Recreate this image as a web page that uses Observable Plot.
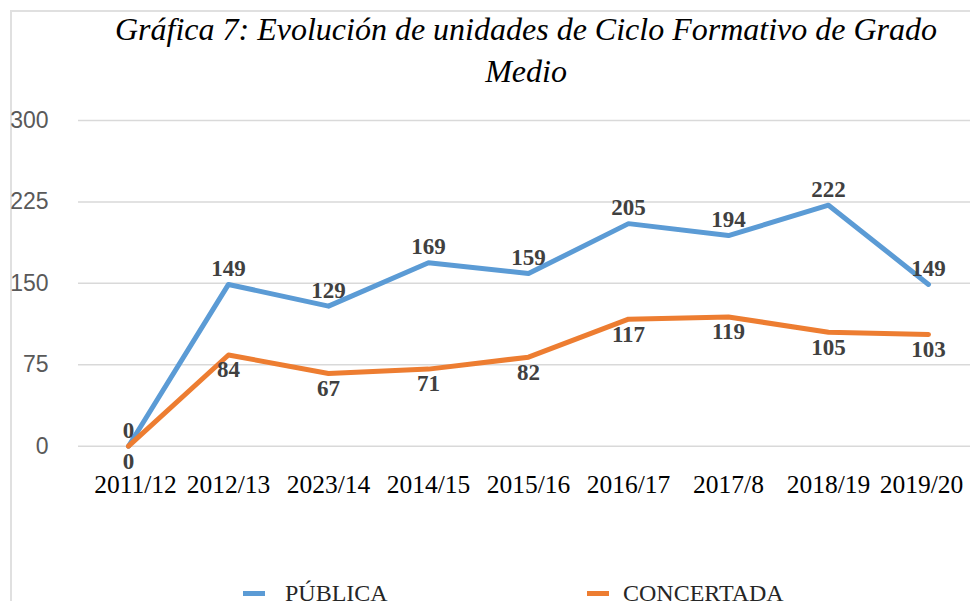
<!DOCTYPE html>
<html>
<head>
<meta charset="utf-8">
<script src="https://cdn.jsdelivr.net/npm/d3@7"></script>
<script src="https://cdn.jsdelivr.net/npm/@observablehq/plot@0.6"></script>
<style>
  html, body { margin: 0; padding: 0; background: #fff; overflow: hidden; }
  body { width: 970px; height: 601px; position: relative; }
  #frame { position: absolute; left: 10px; top: 10px; width: 1000px; height: 700px; border: 2px solid #e0e0e0; box-sizing: border-box; }
  #title { position: absolute; left: 76px; width: 900px; top: 8px; text-align: center;
    font-family: "Liberation Serif", serif; font-style: italic; font-size: 32px; line-height: 42px; color: #000; white-space: nowrap; }
  #chart { position: absolute; left: 0; top: 100px; }
  .leg { position: absolute; top: 581px; font-family: "Liberation Serif", serif; font-size: 24px; line-height: 24px; color: #262626; white-space: nowrap; }
  .sw { position: absolute; top: 591px; width: 22px; height: 5px; }
</style>
</head>
<body>
<div id="frame"></div>
<div id="title"></div>
<div id="chart"></div>
<div id="legend"></div>
<script>
const titleLines = ["Gráfica 7: Evolución de unidades de Ciclo Formativo de Grado", "Medio"];
const years = ["2011/12", "2012/13", "2023/14", "2014/15", "2015/16", "2016/17", "2017/8", "2018/19", "2019/20"];
const seriesNames = ["PÚBLICA", "CONCERTADA"];
const publica = [0, 149, 129, 169, 159, 205, 194, 222, 149];
const concertada = [0, 84, 67, 71, 82, 117, 119, 105, 103];
const seriesColors = ["#5B9BD5", "#ED7D31"];
const yTicks = [0, 75, 150, 225, 300];

document.getElementById("title").innerHTML = titleLines.join("<br>");

const rows = [];
years.forEach((yr, i) => {
  rows.push({year: yr, value: publica[i], series: seriesNames[0]});
});
years.forEach((yr, i) => {
  rows.push({year: yr, value: concertada[i], series: seriesNames[1]});
});
const pub = rows.filter(d => d.series === seriesNames[0]);
const con = rows.filter(d => d.series === seriesNames[1]);

const xAxisStyle = {tickSize: 0, tickPadding: 29, fontSize: 25.5, fontFamily: "Liberation Serif, serif", fill: "#000", label: null};

const chart = Plot.plot({
  width: 970,
  height: 400,
  marginLeft: 78,
  marginRight: 0,
  marginTop: 20,
  marginBottom: 54.3,
  x: {type: "point", domain: years, range: [127, 928], padding: 0, label: null},
  y: {domain: [0, 300], ticks: yTicks, label: null},
  color: {domain: seriesNames, range: seriesColors},
  marks: [
    Plot.ruleY(yTicks, {stroke: "#d9d9d9", strokeWidth: 1.5}),
    Plot.axisY({ticks: yTicks, tickSize: 0, tickPadding: 30, fontSize: 23, fontFamily: "Liberation Sans, sans-serif", fill: "#595959", label: null}),
    Plot.axisX({...xAxisStyle, ticks: years.slice(0, 1), dx: 7}),
    Plot.axisX({...xAxisStyle, ticks: years.slice(1, -1)}),
    Plot.axisX({...xAxisStyle, ticks: years.slice(-1), dx: -7}),
    Plot.line(rows, {x: "year", y: "value", z: "series", stroke: "series", strokeWidth: 5, strokeLinejoin: "round", strokeLinecap: "round"}),
    Plot.text(pub, {x: "year", y: "value", text: d => String(d.value), dy: -16, fontSize: 23, fontWeight: "bold", fontFamily: "Liberation Serif, serif", fill: "#404040"}),
    Plot.text(con, {x: "year", y: "value", text: d => String(d.value), dy: 15, fontSize: 23, fontWeight: "bold", fontFamily: "Liberation Serif, serif", fill: "#404040"})
  ]
});
document.getElementById("chart").appendChild(chart);

const legend = document.getElementById("legend");
const swX = [243, 587];
const txtX = [285, 623];
seriesNames.forEach((name, i) => {
  const sw = document.createElement("div");
  sw.className = "sw";
  sw.style.left = swX[i] + "px";
  sw.style.background = seriesColors[i];
  legend.appendChild(sw);
  const t = document.createElement("div");
  t.className = "leg";
  t.style.left = txtX[i] + "px";
  t.textContent = name;
  legend.appendChild(t);
});
</script>
</body>
</html>
